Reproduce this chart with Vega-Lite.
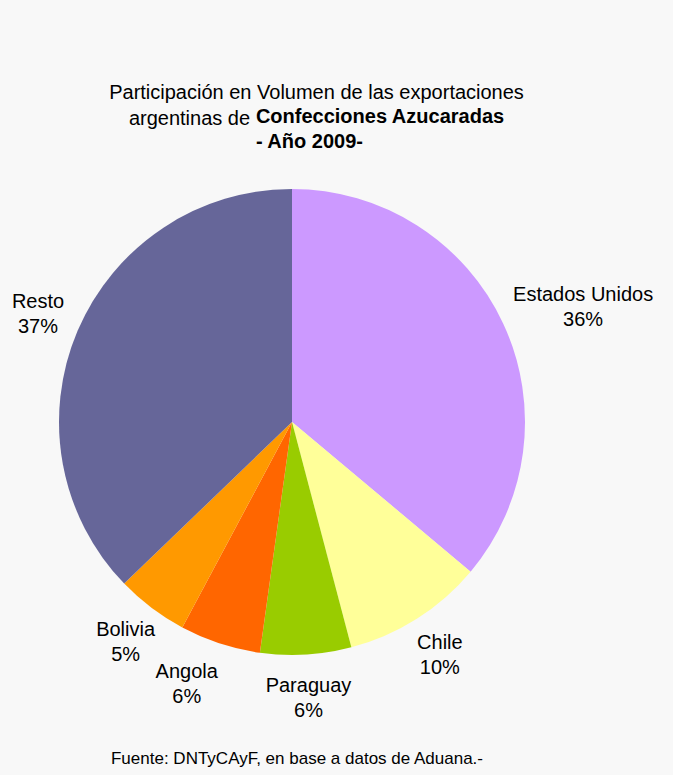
{
  "$schema": "https://vega.github.io/schema/vega-lite/v6.json",
  "background": "#f8f8f8",
  "padding": {"left": 11, "top": 83, "right": 20, "bottom": 8},
  "config": {
    "view": {"stroke": null},
    "font": "Liberation Sans",
    "title": {"font": "Liberation Sans", "color": "#000000", "subtitleColor": "#000000", "subtitleFont": "Liberation Sans"}
  },
  "title": {"text": "Participación en Volumen de las exportaciones", "fontSize": 20, "fontWeight": "normal", "anchor": "middle", "dx": -16, "offset": 4},
  "vconcat": [
    {
      "title": {"text": "argentinas de", "fontSize": 20, "fontWeight": "normal", "anchor": "start", "dx": 117, "offset": -22},
      "vconcat": [
        {
          "title": {"text": "Confecciones Azucaradas", "subtitle": "- Año 2009-", "fontSize": 20, "fontWeight": "bold", "subtitleFontSize": 20, "subtitleFontWeight": "bold", "subtitlePadding": 5, "anchor": "start", "dx": 244, "offset": 37},
          "vconcat": [
            {
              "width": 466,
              "height": 466,
              "title": {"text": "Fuente: DNTyCAyF, en base a datos de Aduana.-", "orient": "bottom", "fontSize": 17, "fontWeight": "normal", "anchor": "middle", "dx": 5, "offset": 30},
              "data": {
                "values": [
                  {"orden": 1, "pais": "Estados Unidos", "valor": 36.1, "etiqueta": "Estados Unidos\n36%"},
                  {"orden": 2, "pais": "Chile", "valor": 9.8, "etiqueta": "Chile\n10%"},
                  {"orden": 3, "pais": "Paraguay", "valor": 6.3, "etiqueta": "Paraguay\n6%"},
                  {"orden": 4, "pais": "Angola", "valor": 5.6, "etiqueta": "Angola\n6%"},
                  {"orden": 5, "pais": "Bolivia", "valor": 5.0, "etiqueta": "Bolivia\n5%"},
                  {"orden": 6, "pais": "Resto", "valor": 37.2, "etiqueta": "Resto\n37%"}
                ]
              },
              "encoding": {
                "theta": {"field": "valor", "type": "quantitative", "stack": true},
                "order": {"field": "orden", "type": "quantitative"},
                "color": {
                  "field": "pais",
                  "type": "nominal",
                  "scale": {
                    "domain": ["Estados Unidos", "Chile", "Paraguay", "Angola", "Bolivia", "Resto"],
                    "range": ["#CC99FF", "#FFFF99", "#99CC00", "#FF6600", "#FF9900", "#666699"]
                  },
                  "legend": null
                }
              },
              "layer": [
                {"mark": {"type": "arc", "outerRadius": 233}},
                {
                  "mark": {"type": "text", "radius": 276, "dy": -12, "fontSize": 20, "lineBreak": "\n", "lineHeight": 25, "align": "center", "baseline": "middle"},
                  "encoding": {
                    "color": {"value": "#000000"},
                    "text": {"condition": {"test": "datum.pais == 'Estados Unidos' || datum.pais == 'Angola'", "value": ""}, "field": "etiqueta", "type": "nominal"}
                  }
                },
                {
                  "mark": {"type": "text", "radius": 276, "dx": 41, "dy": -10, "fontSize": 20, "lineBreak": "\n", "lineHeight": 25, "align": "center", "baseline": "middle"},
                  "encoding": {
                    "color": {"value": "#000000"},
                    "text": {"condition": {"test": "datum.pais != 'Estados Unidos'", "value": ""}, "field": "etiqueta", "type": "nominal"}
                  }
                },
                {
                  "mark": {"type": "text", "radius": 276, "dy": -12, "dx": -20, "fontSize": 20, "lineBreak": "\n", "lineHeight": 25, "align": "center", "baseline": "middle"},
                  "encoding": {
                    "color": {"value": "#000000"},
                    "text": {"condition": {"test": "datum.pais != 'Angola'", "value": ""}, "field": "etiqueta", "type": "nominal"}
                  }
                }
              ]
            }
          ]
        }
      ]
    }
  ]
}
